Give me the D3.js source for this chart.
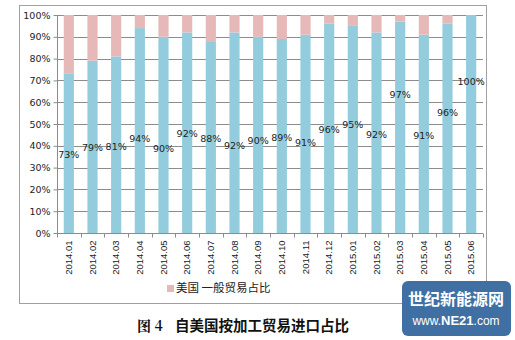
<!DOCTYPE html>
<html><head><meta charset="utf-8">
<script src="https://cdn.jsdelivr.net/npm/d3@7"></script>
<style>
html,body{margin:0;padding:0;background:#fff;}
svg{display:block;}
</style></head>
<body>
<script>
const categories = ["2014.01","2014.02","2014.03","2014.04","2014.05","2014.06","2014.07","2014.08","2014.09","2014.10","2014.11","2014.12","2015.01","2015.02","2015.03","2015.04","2015.05","2015.06"];
const processingShare = [73,79,81,94,90,92,88,92,90,89,91,96,95,92,97,91,96,100];
const generalShare = [27,21,19,6,10,8,12,8,10,11,9,4,5,8,3,9,4,0];
// value (in %) at which each data label sits
const labelAnchor = [35.8,39.3,39.6,43.4,38.5,45.4,43.4,39.9,42.3,43.9,41.6,47.6,49.8,45,63.3,44.6,55.4,69.4];
const yTicks = [0,10,20,30,40,50,60,70,80,90,100];
const legendLabel = "美国 一般贸易占比";
const captionNo = "图 4";
const captionText = "自美国按加工贸易进口占比";

const W = 515, H = 340;
const svg = d3.select("body").append("svg").attr("width", W).attr("height", H);

// outer frame
svg.append("rect").attr("x",19.5).attr("y",5.5).attr("width",467).attr("height",298)
  .attr("fill","#fff").attr("stroke","#a0a0a0").attr("stroke-width",1);

const x = d3.scaleBand().domain(categories).range([57, 483]).paddingInner(0.57).paddingOuter(0.285);
const y = d3.scaleLinear().domain([0,100]).range([233, 15]);

// gridlines
svg.append("g").selectAll("line").data(yTicks.filter(d=>d>0)).join("line")
  .attr("x1",57).attr("x2",483).attr("y1",d=>Math.round(y(d))+0.5).attr("y2",d=>Math.round(y(d))+0.5)
  .attr("stroke","#8c8c8c").attr("stroke-width",1);

// bars
const stack = categories.map((c,i)=>({c, a:processingShare[i], b:generalShare[i]}));
svg.append("g").selectAll("rect").data(stack).join("rect")
  .attr("x",d=>x(d.c)).attr("width",x.bandwidth())
  .attr("y",d=>y(d.a)).attr("height",d=>y(0)-y(d.a)).attr("fill","#93cddd");
svg.append("g").selectAll("rect").data(stack).join("rect")
  .attr("x",d=>x(d.c)).attr("width",x.bandwidth())
  .attr("y",d=>y(d.a+d.b)).attr("height",d=>y(d.a)-y(d.a+d.b)).attr("fill","#e6b9b8");

// y axis
const yAxis = d3.axisLeft(y).tickValues(yTicks).tickFormat(d=>d+"%").tickSize(4).tickPadding(3);
const gy = svg.append("g").attr("transform","translate(57.5,0)").call(yAxis);
gy.select(".domain").attr("stroke","#8c8c8c").attr("d","M0,15V233");
gy.selectAll(".tick line").attr("stroke","#8c8c8c");
gy.selectAll("text").attr("font-family","Verdana, 'DejaVu Sans', sans-serif").attr("font-size","9.5px").attr("fill","#222");

// x axis
const xAxis = d3.axisBottom(x).tickSize(0).tickPadding(0);
const gx = svg.append("g").attr("transform","translate(0,233.5)").call(xAxis);
gx.select(".domain").attr("stroke","#8c8c8c").attr("d","M57,0H483");
gx.selectAll(".tick text")
  .attr("transform","rotate(-90)").attr("x",-7).attr("y",0).attr("dy","0.35em")
  .attr("text-anchor","end")
  .attr("font-family","Arial, 'Liberation Sans', sans-serif").attr("font-size","9.5px").attr("fill","#222");
// tick marks between categories
gx.append("g").selectAll("line").data(d3.range(categories.length+1)).join("line")
  .attr("x1",i=>Math.round(57+i*(426/categories.length))+0.5)
  .attr("x2",i=>Math.round(57+i*(426/categories.length))+0.5)
  .attr("y1",0).attr("y2",4).attr("stroke","#8c8c8c");

// data labels
svg.append("g").selectAll("text").data(stack).join("text")
  .attr("x",d=>x(d.c)+x.bandwidth()/2).attr("y",(d,i)=>y(labelAnchor[i]))
  .attr("dy","0.35em").attr("text-anchor","middle")
  .attr("font-family","Verdana, 'DejaVu Sans', sans-serif").attr("font-size","9.5px").attr("fill","#222")
  .text(d=>d.a+"%");

// legend
svg.append("rect").attr("x",167).attr("y",285).attr("width",7).attr("height",7).attr("fill","#e6b9b8");
svg.append("text").attr("x",176).attr("y",288).attr("dy","0.35em")
  .attr("font-family","'Noto Sans CJK SC', sans-serif").attr("font-size","11.5px").attr("fill","#222")
  .text(legendLabel);

// caption
svg.append("text").attr("x",137).attr("y",326).attr("dy","0.35em")
  .attr("font-family","'Noto Serif CJK SC','Noto Sans CJK SC', serif").attr("font-weight","bold")
  .attr("font-size","14px").attr("fill","#111").text(captionNo);
svg.append("text").attr("x",175).attr("y",326).attr("dy","0.35em")
  .attr("font-family","'Noto Sans CJK SC', sans-serif").attr("font-weight","bold")
  .attr("font-size","14.5px").attr("fill","#111").text(captionText);

// watermark
const wm = svg.append("g");
wm.append("rect").attr("x",402).attr("y",281).attr("width",109).attr("height",55).attr("rx",6)
  .attr("fill","#3f6fa3");
wm.append("text").attr("x",456).attr("y",299).attr("dy","0.35em").attr("text-anchor","middle")
  .attr("font-family","'Noto Sans CJK SC', sans-serif").attr("font-weight","bold").attr("font-size","16px")
  .attr("fill","#fff").text("世纪新能源网");
const t2 = wm.append("text").attr("x",456).attr("y",321).attr("dy","0.35em").attr("text-anchor","middle")
  .attr("font-family","Arial, 'Liberation Sans', sans-serif").attr("font-size","12px").attr("fill","#fff");
t2.append("tspan").text("www.");
t2.append("tspan").attr("font-weight","bold").attr("font-size","13px").text("NE21");
t2.append("tspan").text(".com");
</script>
</body></html>
